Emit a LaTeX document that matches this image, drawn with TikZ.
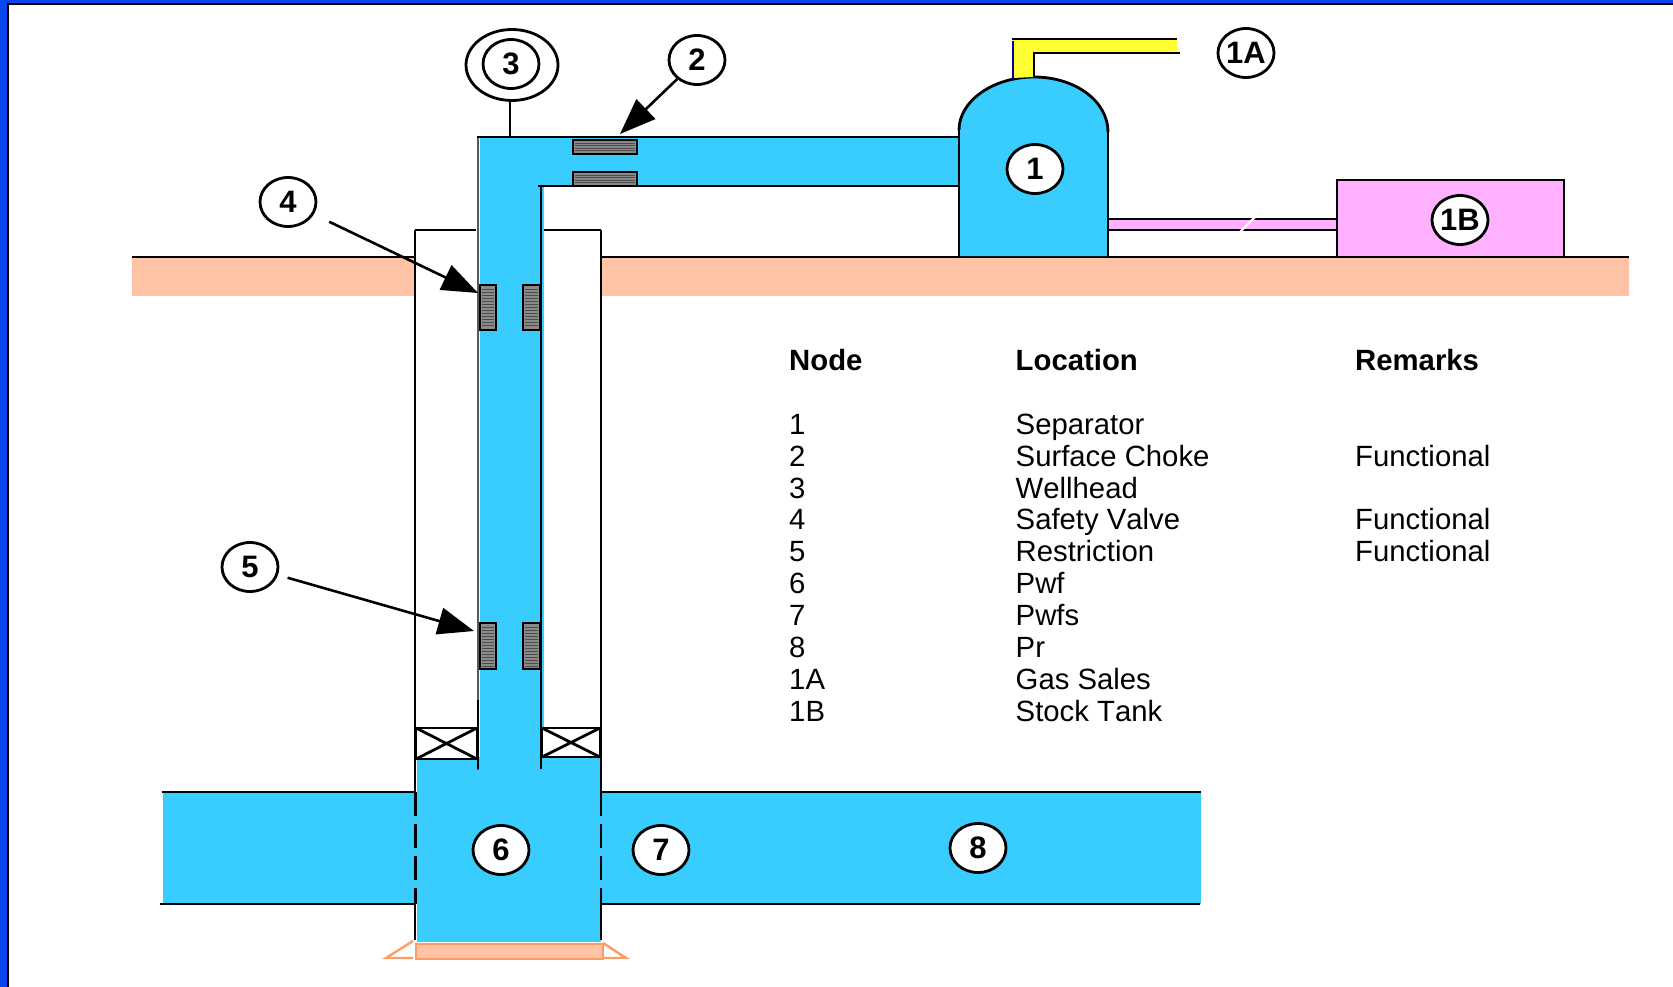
\documentclass[tikz,border=0pt]{standalone}
\usepackage{fontspec}
\setmainfont[Kerning=Off]{Liberation Sans}
\usetikzlibrary{shapes.geometric,arrows.meta}
\definecolor{water}{HTML}{38CCFF}
\definecolor{pinkoil}{HTML}{FFB0FF}
\definecolor{earth}{HTML}{FFC4A6}
\definecolor{earthline}{HTML}{FF9C66}
\definecolor{gas}{HTML}{FFFF33}
\definecolor{frameblue}{HTML}{0A46F0}
\definecolor{valvegray}{HTML}{8A8A8A}
\tikzset{
  ln/.style={line width=2.8pt,black},
  tag/.style={draw=black,line width=2.8pt,fill=white,ellipse,minimum width=56pt,minimum height=49pt,inner sep=0pt,font=\fontsize{31}{31}\selectfont\bfseries},
  valve/.style={draw=black,line width=2.8pt,fill=valvegray},
  stripe/.style={black!70,line width=.9pt},
  lead/.style={line width=2.6pt,-{Triangle[length=36pt,width=27pt]}},
  cell/.style={anchor=base west,inner sep=0pt,font=\fontsize{29.3}{30}\selectfont},
  head/.style={anchor=base west,inner sep=0pt,font=\fontsize{29.3}{30}\selectfont\bfseries},
}
\begin{document}
\begin{tikzpicture}[x=1pt,y=-1pt]
\useasboundingbox (0,0) rectangle (1673,987);
% frame
\fill[frameblue] (0,0) rectangle (1673,3);
\fill[frameblue] (0,0) rectangle (7,987);
\draw[line width=2.4pt,black] (8,987) -- (8,4) -- (1673,4);
% ground
\fill[earth] (132,257) rectangle (1629,296);
\draw[ln] (132,257) -- (1629,257);
% reservoir
\fill[water] (163,793) rectangle (1201,904);
\draw[ln] (162,792) -- (415,792);
\draw[ln] (601,792) -- (1201,792);
\draw[ln] (160,904) -- (415,904);
\draw[ln] (601,904) -- (1200,904);
% casing interior
\fill[white] (415,230) rectangle (601,792);
\fill[white] (415,904) rectangle (417,942);
% wellbore
\fill[water] (417,757) rectangle (601,942);
\draw[ln] (415,230) -- (415,792);
\draw[line width=3pt,dash pattern=on 24pt off 8pt] (415,792) -- (415,904);
\draw[ln] (415,904) -- (415,940);
\draw[line width=1.4pt,dash pattern=on 24pt off 8pt] (601,792) -- (601,904);
\draw[line width=1.4pt] (601,904) -- (601,940);
\draw[ln] (601,230) -- (601,792);
\draw[ln] (415,230) -- (476,230);
\draw[ln] (543,230) -- (601,230);
% tubing
\fill[water] (480,137) rectangle (544,770);
\fill[water] (480,137) rectangle (959,186);
\draw[line width=2.2pt,black!65] (478,137) -- (478,770);
\draw[ln] (477,137) -- (959,137);
\draw[ln] (538,186) -- (959,186);
\draw[ln] (541,186) -- (541,769);
\draw[ln] (478,700) -- (478,769);
% packers
\draw[ln,fill=white] (416,728) rectangle (477,759);
\draw[ln] (416,728) -- (477,759) (416,759) -- (477,728);
\draw[ln,fill=white] (542,728) rectangle (600,757);
\draw[ln] (542,728) -- (600,757) (542,757) -- (600,728);
% wellhead lead
\node[tag,minimum width=92pt,minimum height=71pt] (n3o) at (512,65) {};
\node[tag] (n3) at (511,64) {3};
\coordinate (wh) at (510,137);
\draw[ln] (n3o.south) ++(-2,0) -- (wh);
% choke
\draw[valve] (573,140) rectangle (637,154);
\draw[valve] (573,172) rectangle (637,186);
\foreach \y in {143,145.5,148,150.5} \draw[stripe] (575,\y) -- (635,\y);
\foreach \y in {175,177.5,180,182.5} \draw[stripe] (575,\y) -- (635,\y);
% safety valve and restriction
\draw[valve] (480,285) rectangle (496,330);
\draw[valve] (523,285) rectangle (540,330);
\draw[valve] (480,623) rectangle (496,669);
\draw[valve] (523,623) rectangle (540,669);
\foreach \y in {289,292,...,327} {\draw[stripe] (482,\y) -- (494,\y); \draw[stripe] (525,\y) -- (538,\y);}
\foreach \y in {627,630,...,666} {\draw[stripe] (482,\y) -- (494,\y); \draw[stripe] (525,\y) -- (538,\y);}
% separator
\fill[water] (959,256) -- (959,130) .. controls (959,101) and (993,77) .. (1034,77) .. controls (1075,77) and (1108,101) .. (1108,130) -- (1108,256) -- cycle;
\draw[ln] (959,256) -- (959,126);
\draw[line width=1.4pt] (1108,132) -- (1108,256);
\draw[ln] (959,130) .. controls (959,101) and (993,77) .. (1034,77) .. controls (1075,77) and (1108,101) .. (1108,132);
% gas line
\fill[gas] (1013,78) -- (1013,39) -- (1177,39) -- (1177,53) -- (1034,53) -- (1034,77) -- cycle;
\draw[line width=2.4pt,blue!60!black] (1013,41) -- (1013,78);
\draw[ln] (1012,39) -- (1177,39);
\draw[ln] (1180,53) -- (1034,53) -- (1034,78);
% oil line
\fill[pinkoil] (1109,219) rectangle (1336,230);
\draw[ln] (1109,219) -- (1336,219);
\draw[ln] (1109,230) -- (1336,230);
\draw[white,line width=2.4pt] (1240,232) -- (1256,216);
% tank
\draw[ln,fill=pinkoil] (1337,256) -- (1337,180) -- (1564,180) -- (1564,256);
% tags
\node[tag] (n1) at (1035,169) {1};
\node[tag] (n1a) at (1246,53) {1A};
\node[tag] (n1b) at (1460,220) {1B};
\node[tag] (n2) at (697,60) {2};
\node[tag] (n4) at (288,202) {4};
\node[tag] (n5) at (250,567) {5};
\node[tag] (n6) at (501,850) {6};
\node[tag] (n7) at (661,850) {7};
\node[tag] (n8) at (978,848) {8};
% leads
\coordinate (t2) at (620,134);
\coordinate (t4) at (478,293);
\coordinate (t5) at (474,631);
\draw[lead] (n2) -- (t2);
\draw[lead,shorten <=17pt] (n4) -- (t4);
\draw[lead,shorten <=10pt] (n5) -- (t5);
% perforation base
\draw[line width=2.8pt,earthline,fill=earth] (416,944) rectangle (603,959);
\draw[line width=2.4pt,earthline] (413,941) -- (386,958) -- (413,958);
\draw[line width=2.4pt,earthline] (603,943) -- (626,958) -- (604,958);
% table
\node[head] (h1) at (789,370) {Node};
\node[head] (h2) at (1015.5,370) {Location};
\node[head] (h3) at (1355,370) {Remarks};
\node[cell] (a1) at (789,434) {1};     \node[cell] (b1) at (1015.5,434) {Separator};
\node[cell] (a2) at (789,466) {2};     \node[cell] (b2) at (1015.5,466) {Surface Choke};
\node[cell] (a3) at (789,498) {3};     \node[cell] (b3) at (1015.5,498) {Wellhead};
\node[cell] (a4) at (789,529) {4};     \node[cell] (b4) at (1015.5,529) {Safety Valve};
\node[cell] (a5) at (789,561) {5};     \node[cell] (b5) at (1015.5,561) {Restriction};
\node[cell] (a6) at (789,593) {6};     \node[cell] (b6) at (1015.5,593) {Pwf};
\node[cell] (a7) at (789,625) {7};     \node[cell] (b7) at (1015.5,625) {Pwfs};
\node[cell] (a8) at (789,657) {8};     \node[cell] (b8) at (1015.5,657) {Pr};
\node[cell] (a9) at (789,689) {1A};    \node[cell] (b9) at (1015.5,689) {Gas Sales};
\node[cell] (a10) at (789,721) {1B};   \node[cell] (b10) at (1015.5,721) {Stock Tank};
\node[cell] (c2) at (1355,466) {Functional};
\node[cell] (c4) at (1355,529) {Functional};
\node[cell] (c5) at (1355,561) {Functional};
\end{tikzpicture}
\end{document}
